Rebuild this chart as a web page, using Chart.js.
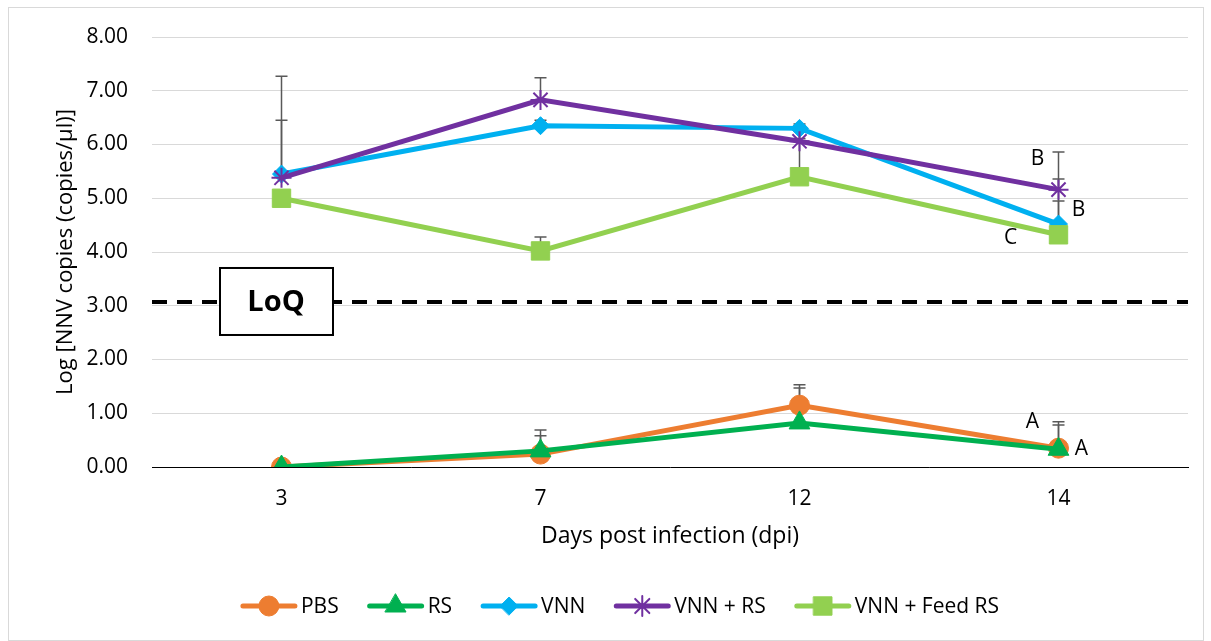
<!DOCTYPE html>
<html>
<head>
<meta charset="utf-8">
<script src="https://cdn.jsdelivr.net/npm/chart.js@4/dist/chart.umd.min.js"></script>
<style>
html, body { margin: 0; padding: 0; background: #fff; }
#wrap { position: relative; width: 1211px; height: 641px; }
#frame { position: absolute; left: 8px; top: 7px; width: 1196px; height: 634px; border: 1px solid #d9d9d9; box-sizing: border-box; }
canvas { position: absolute; left: 0; top: 0; }
</style>
</head>
<body>
<div id="wrap"><div id="frame"></div><canvas id="lineChart" width="1211" height="641"></canvas></div>
<script>
var days = ["3", "7", "12", "14"];
var pbs       = [0.00, 0.24, 1.15, 0.35];
var rs        = [0.00, 0.30, 0.82, 0.33];
var vnn       = [5.45, 6.35, 6.30, 4.52];
var vnnRs     = [5.38, 6.83, 6.06, 5.16];
var vnnFeedRs = [5.00, 4.02, 5.40, 4.32];

// upper error bars (+SD)
var pbsErr       = [0, 0.45, 0.38, 0.49];
var rsErr        = [0, 0.28, 0.65, 0.45];
var vnnErr       = [1.82, 0.10, 0.08, 0.43];
var vnnRsErr     = [1.07, 0.41, 0.05, 0.70];
var vnnFeedRsErr = [0, 0.26, 0.95, 1.04];

var loq = 3.07;
var yMin = 0, yMax = 8, yStep = 1;

// significance letters: [series index, day index, text]
var letters = [[3, 3, "B"], [2, 3, "B"], [4, 3, "C"], [0, 3, "A"], [1, 3, "A"]];
var letterOffsets = [[-21, -31], [20, -14], [-48, 3], [-26, -26], [23, 0]];

var FONT = "'Open Sans', 'Liberation Sans', sans-serif";

function series(label, data, err, color, style, radius) {
    return {
        label: label, data: data, err: err,
        borderColor: color, backgroundColor: color,
        borderWidth: 5,
        pointStyle: style, pointRadius: radius, pointHoverRadius: radius,
        pointBackgroundColor: color, pointBorderColor: color,
        pointBorderWidth: style === 'star' ? 2 : 1,
        tension: 0
    };
}

var datasets = [
    series("PBS", pbs, pbsErr, "#ED7D31", "circle", 10),
    series("RS", rs, rsErr, "#00B050", "triangle", 12),
    series("VNN", vnn, vnnErr, "#00B0F0", "rectRot", 9),
    series("VNN + RS", vnnRs, vnnRsErr, "#7030A0", "star", 10),
    series("VNN + Feed RS", vnnFeedRs, vnnFeedRsErr, "#92D050", "rect", 13)
];
datasets.forEach(function(d, i){ d.order = datasets.length - i; });

var errorBars = {
    id: 'errorBars',
    beforeDatasetsDraw: function(chart){
        var ctx = chart.ctx, y = chart.scales.y, area = chart.chartArea;
        // LoQ dashed line
        ctx.save();
        ctx.strokeStyle = '#000';
        ctx.lineWidth = 4;
        ctx.setLineDash([15, 10]);
        var ly = Math.round(y.getPixelForValue(loq));
        ctx.beginPath();
        ctx.moveTo(area.left, ly);
        ctx.lineTo(area.right, ly);
        ctx.stroke();
        ctx.restore();

        ctx.save();
        ctx.strokeStyle = '#595959';
        ctx.lineWidth = 1.5;
        chart.data.datasets.forEach(function(ds, di){
            var meta = chart.getDatasetMeta(di);
            ds.data.forEach(function(v, i){
                if (!ds.err[i]) return;
                var pt = meta.data[i];
                var top = y.getPixelForValue(v + ds.err[i]);
                ctx.beginPath();
                ctx.moveTo(pt.x, pt.y);
                ctx.lineTo(pt.x, top);
                ctx.moveTo(pt.x - 6, top);
                ctx.lineTo(pt.x + 6, top);
                ctx.stroke();
            });
        });
        ctx.restore();
    },
    afterDatasetsDraw: function(chart){
        var ctx = chart.ctx, y = chart.scales.y, area = chart.chartArea;
        // LoQ box
        var ly = y.getPixelForValue(loq);
        ctx.save();
        ctx.fillStyle = '#fff';
        ctx.strokeStyle = '#000';
        ctx.lineWidth = 2;
        ctx.fillRect(area.left + 68, ly - 34, 113, 67);
        ctx.strokeRect(area.left + 68, ly - 34, 113, 67);
        ctx.fillStyle = '#000';
        ctx.font = "bold 29px " + FONT;
        ctx.textAlign = 'center';
        ctx.textBaseline = 'middle';
        ctx.fillText("LoQ", area.left + 124, ly + 1);

        // letters
        ctx.font = "21px " + FONT;
        letters.forEach(function(l, k){
            var pt = chart.getDatasetMeta(l[0]).data[l[1]];
            ctx.fillText(l[2], pt.x + letterOffsets[k][0], pt.y + letterOffsets[k][1]);
        });
        ctx.restore();
    },
    afterDraw: function(chart){
        // legend: line with marker in the middle
        var ctx = chart.ctx;
        ctx.save();
        ctx.font = "21px " + FONT;
        ctx.textBaseline = 'middle';
        var lineLen = 56, gap = 4, spacing = 29;
        var total = 0;
        chart.data.datasets.forEach(function(ds){
            total += lineLen + gap + ctx.measureText(ds.label).width;
        });
        total += spacing * (chart.data.datasets.length - 1);
        var x = 620 - total / 2, ly = 606;
        chart.data.datasets.forEach(function(ds){
            ctx.strokeStyle = ds.borderColor;
            ctx.lineWidth = ds.borderWidth;
            ctx.lineCap = 'round';
            ctx.beginPath();
            ctx.moveTo(x + 2, ly);
            ctx.lineTo(x + lineLen - 2, ly);
            ctx.stroke();
            ctx.fillStyle = ds.pointBackgroundColor;
            ctx.strokeStyle = ds.pointBorderColor;
            ctx.lineWidth = ds.pointBorderWidth;
            Chart.helpers.drawPoint(ctx, {pointStyle: ds.pointStyle, radius: ds.pointRadius, borderWidth: ds.pointBorderWidth}, x + lineLen / 2, ly);
            ctx.fillStyle = '#000';
            ctx.fillText(ds.label, x + lineLen + gap, ly + 1);
            x += lineLen + gap + ctx.measureText(ds.label).width + spacing;
        });
        ctx.restore();
    }
};

var ctxL = document.getElementById("lineChart").getContext('2d');
var myLineChart = new Chart(ctxL, {
    type: 'line',
    data: { labels: days, datasets: datasets },
    options: {
        responsive: false,
        animation: false,
        layout: { padding: { top: 37, left: 0, right: 23, bottom: 74 } },
        plugins: { legend: { display: false }, tooltip: { enabled: false } },
        scales: {
            x: {
                offset: true,
                grid: { display: false, drawTicks: false },
                border: { display: true, color: '#000', width: 1 },
                ticks: { color: '#000', font: { family: FONT, size: 21 }, padding: 19 },
                title: { display: true, text: "Days post infection (dpi)", color: '#000',
                         font: { family: FONT, size: 23 }, padding: { top: 0, bottom: 17 } },
                afterFit: function(s){ s.height = 100; }
            },
            y: {
                min: yMin, max: yMax,
                grid: { color: '#d9d9d9', drawTicks: false },
                border: { display: false },
                ticks: { stepSize: yStep, color: '#000', font: { family: FONT, size: 21 }, padding: 24,
                         callback: function(v){ return v.toFixed(2); } },
                title: { display: true, text: "Log [NNV copies (copies/µl)]", color: '#000',
                         font: { family: FONT, size: 22 }, padding: { top: 53, bottom: 0 } },
                afterFit: function(s){ s.width = 152; }
            }
        }
    },
    plugins: [errorBars]
});
</script>
</body>
</html>
